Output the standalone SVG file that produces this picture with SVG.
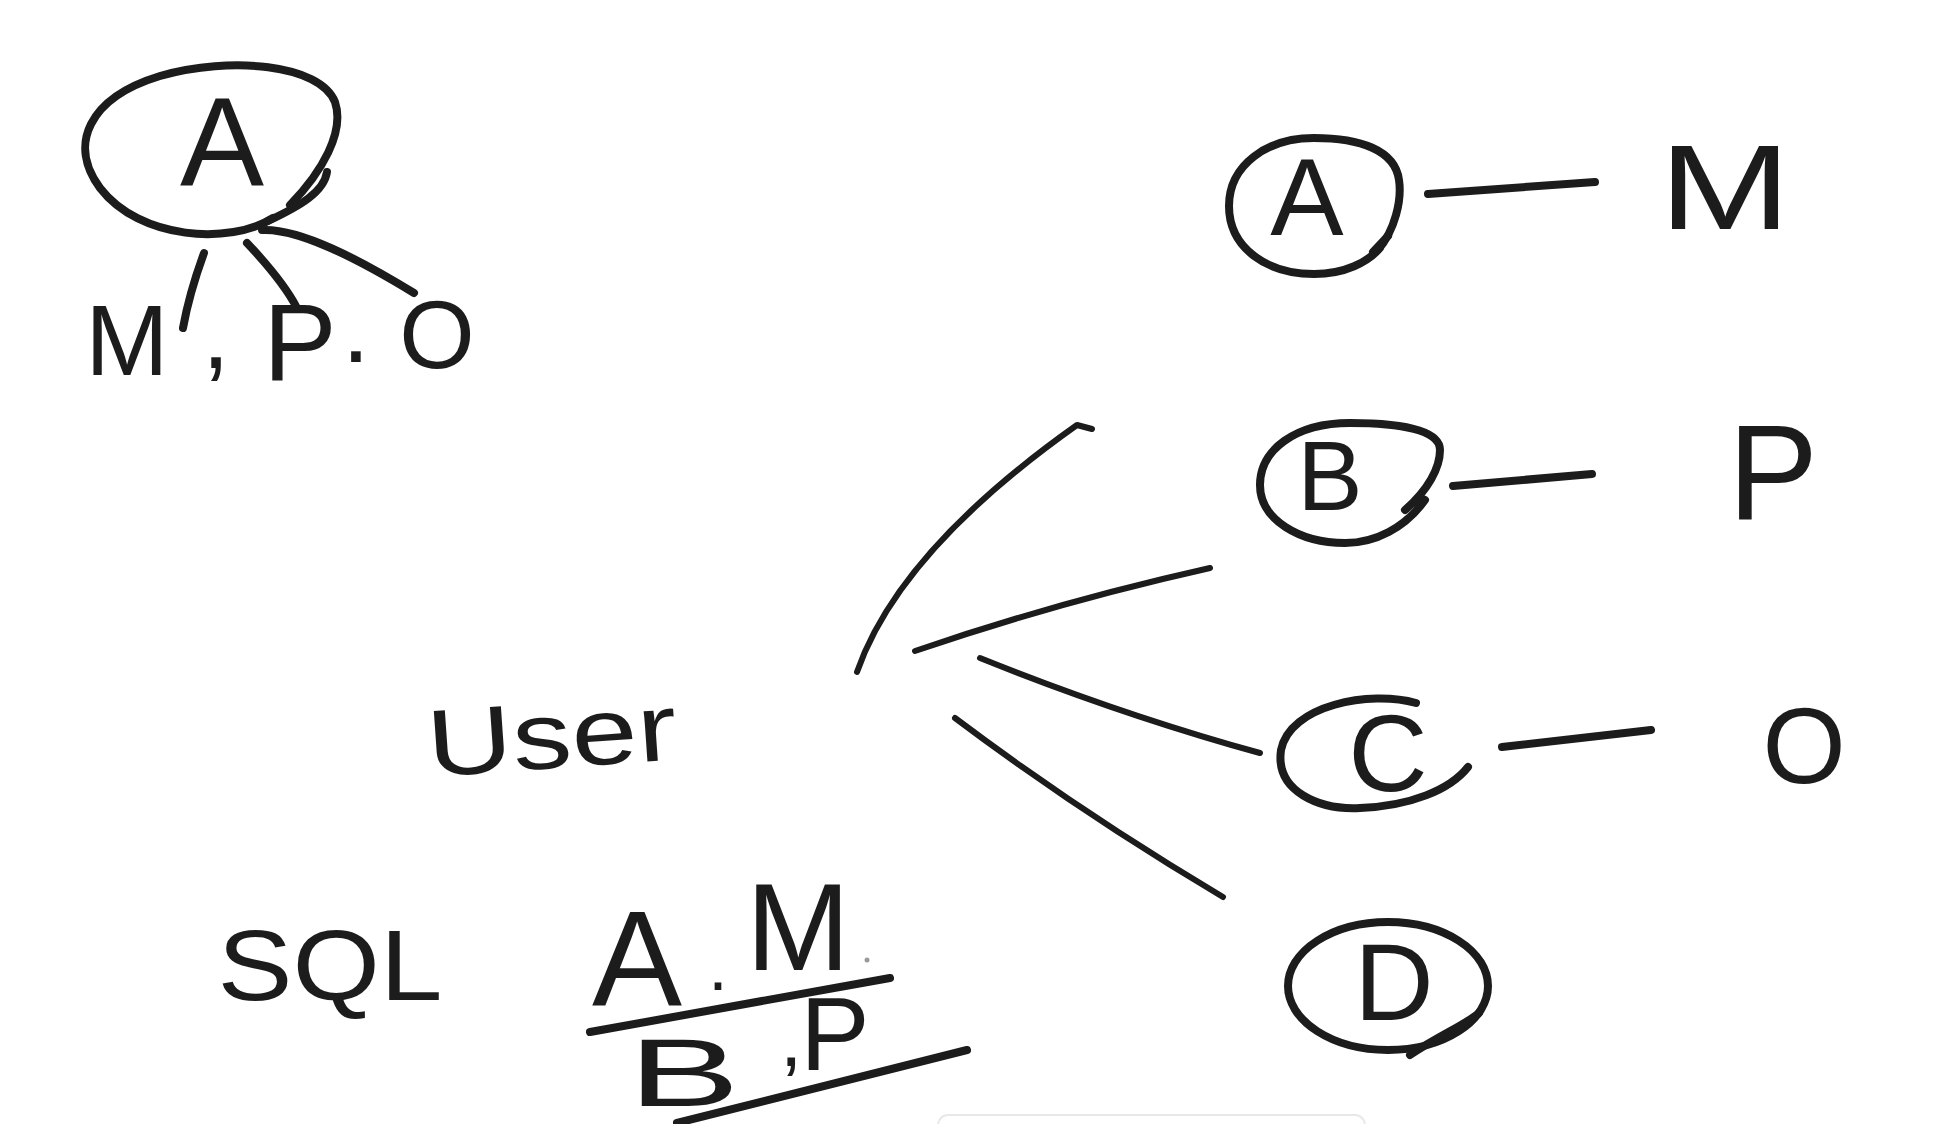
<svg xmlns="http://www.w3.org/2000/svg" width="1939" height="1124" viewBox="0 0 1939 1124">
<style>
.s{fill:none;stroke:#1c1c1c;stroke-width:8;stroke-linecap:round;stroke-linejoin:round}
.t{fill:none;stroke:#1c1c1c;stroke-width:6;stroke-linecap:round;stroke-linejoin:round}
.l{font-family:"Liberation Sans",Arial,sans-serif;fill:#1c1c1c;text-anchor:middle}
</style>
<rect width="1939" height="1124" fill="#ffffff"/>
<rect x="938" y="1115" width="427" height="40" rx="10" fill="#ffffff" stroke="#e8e8e8" stroke-width="2"/>

<g id="node-topA">
<path class="s" d="M 273 218 C 230 245, 140 240, 100 188 C 68 145, 88 98, 160 76 C 230 56, 320 64, 335 102 C 345 132, 322 172, 290 205"/>
<path class="s" d="M 268 221 C 300 206, 324 192, 327 172"/>
<text class="l" x="222" y="185" font-size="126">A</text>
</g>
<g id="node-topM"><text class="l" x="127" y="375" font-size="100">M</text></g>
<g id="node-topcomma"><text class="l" x="216" y="368" font-size="100">,</text></g>
<g id="node-topP"><text class="l" x="300" y="380" font-size="110">P</text></g>
<g id="node-topdot"><text class="l" x="356" y="362" font-size="100">.</text></g>
<g id="node-topO"><text class="l" x="437" y="368" font-size="97">O</text></g>

<g id="node-A">
<path class="s" d="M 1378 250 C 1395 230, 1402 200, 1399 180 C 1395 150, 1360 138, 1314 138 C 1267 138, 1229 165, 1229 206 C 1229 248, 1267 274, 1314 274 C 1345 274, 1368 262, 1380 248"/>
<path class="s" d="M 1373 252 L 1388 236"/>
<text class="l" x="1307" y="235" font-size="110">A</text>
</g>
<g id="node-M"><text class="l" x="1725" y="229" font-size="120" textLength="132" lengthAdjust="spacingAndGlyphs">M</text></g>
<g id="node-B">
<path class="s" d="M 1405 510 C 1428 490, 1440 468, 1440 450 C 1440 430, 1400 423, 1350 423 C 1295 423, 1260 450, 1260 485 C 1260 520, 1300 543, 1345 543 C 1375 543, 1405 528, 1425 500"/>
<text class="l" x="1330" y="510" font-size="98">B</text>
</g>
<g id="node-P"><text class="l" x="1773" y="519" font-size="135">P</text></g>
<g id="node-C">
<path class="s" d="M 1416 703 C 1370 690, 1290 705, 1281 750 C 1275 792, 1320 810, 1360 808 C 1410 806, 1450 790, 1468 767"/>
<text class="l" x="1388" y="791" font-size="110">C</text>
</g>
<g id="node-O"><text class="l" x="1804" y="783" font-size="107">O</text></g>
<g id="node-D">
<ellipse class="s" cx="1388" cy="986" rx="100" ry="64"/>
<path class="s" d="M 1410 1055 C 1440 1035, 1465 1025, 1479 1013"/>
<text class="l" x="1394" y="1020" font-size="110">D</text>
</g>

<g id="node-User"><text class="l" x="552" y="768" font-size="95" textLength="250" lengthAdjust="spacingAndGlyphs" transform="rotate(-4 552 740)">User</text></g>
<g id="node-SQL"><text class="l" x="330" y="1000" font-size="100" textLength="225" lengthAdjust="spacingAndGlyphs">SQL</text></g>
<g id="node-AM">
<text class="l" x="637" y="1005" font-size="135">A</text>
<text class="l" x="718" y="990" font-size="70">.</text>
<text class="l" x="798" y="970" font-size="125">M</text>
<circle cx="867" cy="960" r="2.5" fill="#9a9a9a"/>
</g>
<g id="node-BP">
<text class="l" x="684" y="1106" font-size="96" textLength="112" lengthAdjust="spacingAndGlyphs">B</text>
<text class="l" x="791" y="1066" font-size="80">,</text>
<text class="l" x="835" y="1070" font-size="104">P</text>
</g>

<g id="connectors">
<path class="s" d="M 204 253 C 196 275, 188 300, 183 328"/>
<path class="s" d="M 247 243 C 265 262, 285 285, 297 308"/>
<path class="s" d="M 262 230 C 300 228, 360 260, 414 293"/>
<path class="s" d="M 1428 194 L 1595 182"/>
<path class="s" d="M 1453 486 L 1592 474"/>
<path class="s" d="M 1502 747 L 1651 730"/>
<path class="t" d="M 857 672 Q 899 551, 1077 425 L 1092 429"/>
<path class="t" d="M 915 651 Q 1058 602, 1210 568"/>
<path class="t" d="M 980 658 Q 1122 715, 1260 753"/>
<path class="t" d="M 955 718 Q 1080 812, 1223 897"/>
<path class="s" d="M 590 1032 L 890 978"/>
<path class="s" d="M 677 1123 L 967 1050"/>
</g>
</svg>
